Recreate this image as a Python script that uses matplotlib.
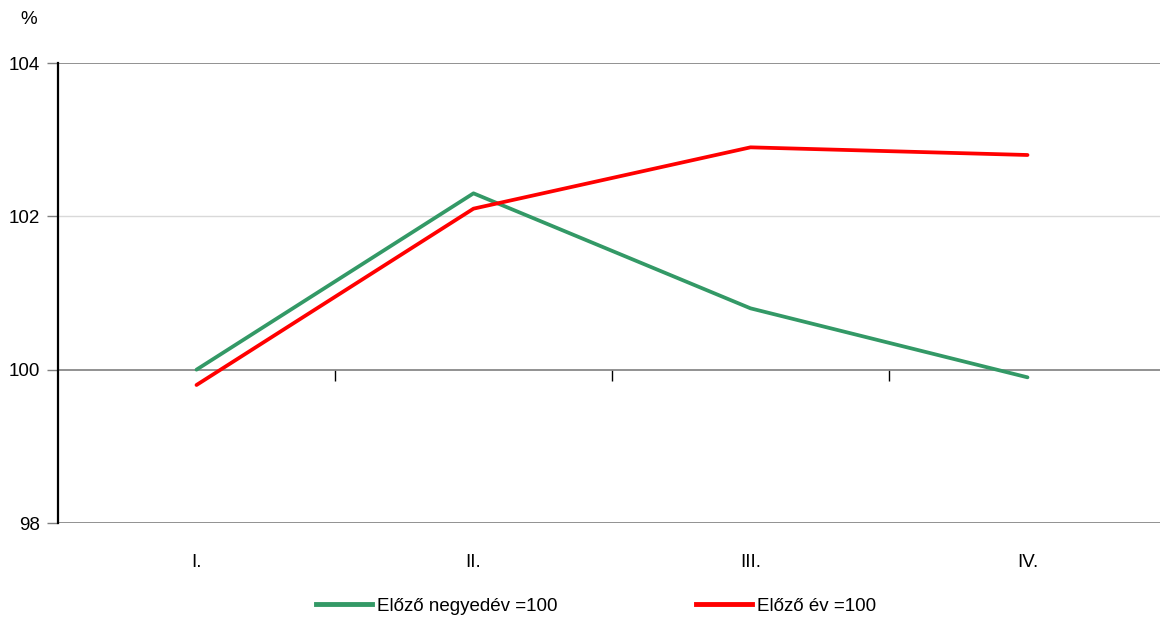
import matplotlib
matplotlib.use("Agg")
import matplotlib.pyplot as plt
from matplotlib.lines import Line2D

categories = ["I.", "II.", "III.", "IV."]
prev_quarter = [100.0, 102.3, 100.8, 99.9]
prev_year = [99.8, 102.1, 102.9, 102.8]
yticks = [98, 100, 102, 104]
label_q = "Előző negyedév =100"
label_y = "Előző év =100"

plt.rcParams['font.family'] = ['Liberation Sans', 'DejaVu Sans']
FS = 13.5

fig = plt.figure(figsize=(11.6, 6.19), dpi=100)
ax = fig.add_axes([58/1160, 1-523/619, 1108/1160, 460/619])

x = list(range(len(categories)))
green = "#339966"
red = "#ff0000"
ax.plot(x, prev_quarter, color=green, lw=2.7, solid_capstyle='round', zorder=3)
ax.plot(x, prev_year, color=red, lw=2.7, solid_capstyle='round', zorder=3)

ax.set_xlim(-0.5, 3.5)
ax.set_ylim(98, 104)

for y in yticks:
    if y == 102:
        ax.axhline(y, color="#d9d9d9", lw=1.0, zorder=1)
    else:
        ax.axhline(y, color="#7f7f7f", lw=1.2, zorder=1)

for s in ["top", "right", "bottom"]:
    ax.spines[s].set_visible(False)
ax.spines["left"].set_color("black")
ax.spines["left"].set_linewidth(1.6)

ax.set_yticks(yticks)
ax.set_yticklabels([str(v) for v in yticks], fontsize=FS)
ax.tick_params(axis='y', length=8, color="#7f7f7f", width=1, pad=5)

ax.set_xticks(x)
ax.set_xticklabels(categories, fontsize=FS)
ax.tick_params(axis='x', length=0, pad=22)

sec = ax.secondary_xaxis((100 - 98) / (104 - 98))
sec.set_xticks([0.5, 1.5, 2.5])
sec.set_xticklabels([])
sec.tick_params(axis='x', direction='out', length=8, color='black', width=1)
sec.spines['bottom'].set_visible(False)
sec.spines['top'].set_visible(False)

fig.text(29/1160, 1-20/619, "%", fontsize=FS, ha='center', va='center')

handles = [Line2D([], [], color=green, lw=3.5),
           Line2D([], [], color=red, lw=3.5)]
fig.legend(handles, [label_q, label_y], loc='center', bbox_to_anchor=(596/1160, 1-606/619),
           ncol=2, frameon=False, fontsize=FS, handlelength=3.0, handletextpad=0.27,
           columnspacing=7.4)

fig.savefig("out.png", dpi=100)
